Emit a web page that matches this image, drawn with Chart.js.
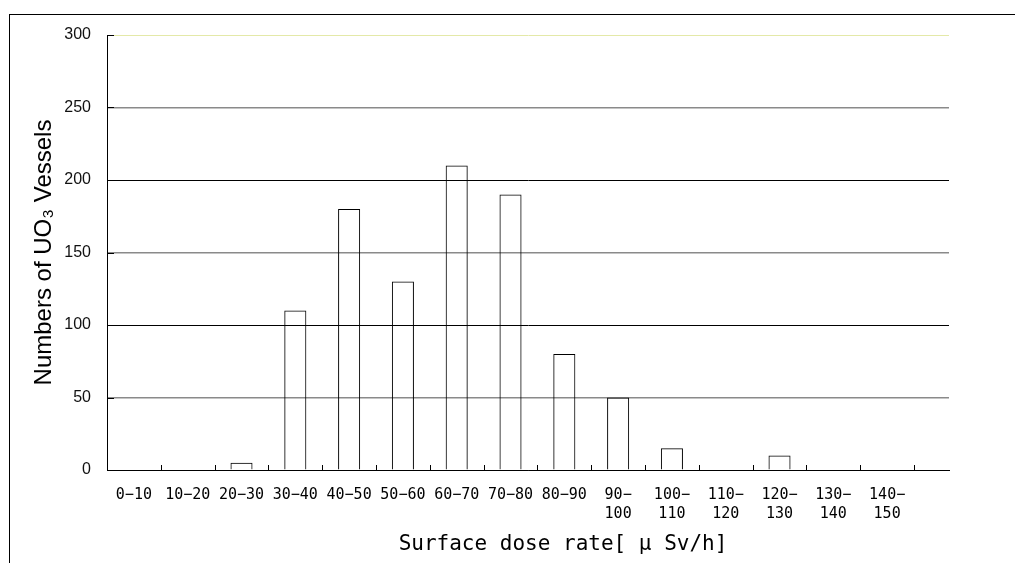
<!DOCTYPE html>
<html>
<head>
<meta charset="utf-8">
<script src="https://cdn.jsdelivr.net/npm/chart.js@4.4.0/dist/chart.umd.min.js"></script>
<style>
  body { margin: 0; background: #fff; }
  #frame { position: absolute; left: 9px; top: 14px; right: 0; bottom: 0; border-top: 1px solid #000; border-left: 1px solid #000; }
  #wrap { position: absolute; left: 0; top: 0; width: 1015px; height: 563px; }
</style>
</head>
<body>
<div id="frame"></div>
<div id="wrap"><canvas id="doseChart"></canvas></div>
<script>
// dose rate classes (uSv/h), long ones wrap onto two lines
var doseRanges = [
  ['0−10'], ['10−20'], ['20−30'], ['30−40'], ['40−50'], ['50−60'], ['60−70'], ['70−80'], ['80−90'],
  ['90−', '100'], ['100−', '110'], ['110−', '120'], ['120−', '130'], ['130−', '140'], ['140−', '150']
];
var vesselCounts = [0, 0, 5, 110, 180, 130, 210, 190, 80, 50, 15, 0, 10, 0, 0];
var countTicks = [0, 50, 100, 150, 200, 250, 300];
var doseTitle = 'Surface dose rate[ μ Sv/h]';
var countTitle = 'Numbers of UO₃ Vessels';

function gridColor(v) {
  if (v === 300) return '#e4e9a8';
  if (v === 0 || v === 100 || v === 200) return '#000';
  return '#8a8a8a';
}

// inward tick marks on both axes + the x axis title
var axisExtras = {
  id: 'axisExtras',
  afterDatasetsDraw: function (chart) {
    var ctx = chart.ctx, x = chart.scales.x, y = chart.scales.y;
    ctx.save();
    ctx.strokeStyle = '#000';
    ctx.lineWidth = 1;
    ctx.beginPath();
    for (var i = 1; i <= doseRanges.length; i++) {
      var px = Math.round(x.getPixelForValue(i)) + 0.5;
      ctx.moveTo(px, y.bottom);
      ctx.lineTo(px, y.bottom - 5);
    }
    countTicks.forEach(function (v) {
      var py = Math.round(y.getPixelForValue(v)) + 0.5;
      ctx.moveTo(x.left, py);
      ctx.lineTo(x.left + 7, py);
    });
    ctx.stroke();
    ctx.font = '21px "DejaVu Sans Mono"';
    ctx.fillStyle = '#000';
    ctx.textAlign = 'center';
    ctx.textBaseline = 'middle';
    ctx.fillText(doseTitle, x.left + 456, y.bottom + 75);
    ctx.restore();
  }
};

var ctx = document.getElementById('doseChart');
new Chart(ctx, {
  type: 'bar',
  data: {
    datasets: [{
      label: countTitle,
      data: vesselCounts.map(function (v, i) { return { x: i + 0.5, y: v }; }),
      backgroundColor: 'rgba(255,255,255,0)',
      borderColor: '#000',
      borderWidth: 1,
      categoryPercentage: 1.0,
      barPercentage: 0.41
    }]
  },
  options: {
    responsive: true,
    maintainAspectRatio: false,
    animation: false,
    layout: { padding: { left: 0, top: 35, right: 66, bottom: 0 } },
    plugins: {
      legend: { display: false },
      tooltip: { enabled: false }
    },
    scales: {
      x: {
        type: 'linear',
        offset: false,
        min: 0,
        max: 15.65,
        grid: { display: false, drawTicks: false, offset: false },
        border: { display: true, color: '#000', width: 1 },
        afterBuildTicks: function (scale) {
          scale.ticks = doseRanges.map(function (r, i) { return { value: i + 0.5 }; });
        },
        ticks: {
          autoSkip: false,
          maxRotation: 0,
          padding: 16,
          color: '#000',
          font: { family: 'DejaVu Sans Mono', size: 15, lineHeight: 1.27 },
          callback: function (v, i) { return doseRanges[i]; }
        },
        afterFit: function (scale) { scale.height = 93; }
      },
      y: {
        min: 0,
        max: 300,
        afterBuildTicks: function (scale) {
          scale.ticks = countTicks.map(function (v) { return { value: v }; });
        },
        grid: {
          drawTicks: false,
          color: function (c) { return gridColor(c.tick.value); },
          lineWidth: function (c) { return gridColor(c.tick.value) === '#8a8a8a' ? 1.6 : 1; }
        },
        border: { display: true, color: '#000', width: 1 },
        ticks: {
          padding: 16,
          color: '#111',
          font: { family: 'Liberation Sans', size: 16 }
        },
        title: {
          display: true,
          text: countTitle,
          color: '#000',
          font: { family: 'Liberation Sans', size: 24 },
          padding: { top: 30, bottom: 0 }
        },
        afterFit: function (scale) { scale.width = 107; }
      }
    }
  },
  plugins: [axisExtras]
});
</script>
</body>
</html>
